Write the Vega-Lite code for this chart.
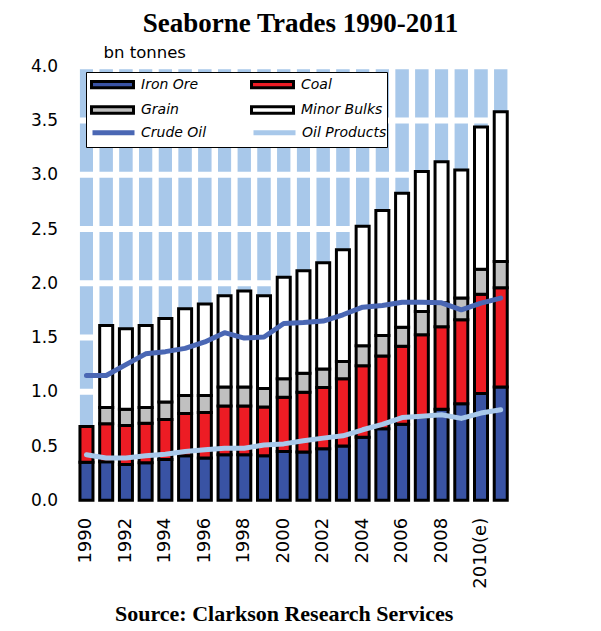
{
  "$schema": "https://vega.github.io/schema/vega-lite/v6.json",
  "width": 434,
  "height": 434,
  "autosize": "none",
  "padding": {"left": 76.6, "top": 66.3, "right": 90.4, "bottom": 130.7},
  "background": "white",
  "config": {"view": {"stroke": null}},
  "title": {"text": "Seaborne Trades 1990-2011", "font": "Liberation Serif", "fontSize": 27, "fontWeight": "bold", "color": "black", "anchor": "middle", "dx": 7, "dy": 28, "offset": 14, "baseline": "alphabetic"},
  "datasets": {
    "trades": [
      {"year": "1990", "type": "Iron Ore", "value": 0.35}, {"year": "1990", "type": "Coal", "value": 0.33},
      {"year": "1991", "type": "Iron Ore", "value": 0.355}, {"year": "1991", "type": "Coal", "value": 0.35}, {"year": "1991", "type": "Grain", "value": 0.15}, {"year": "1991", "type": "Minor Bulks", "value": 0.755},
      {"year": "1992", "type": "Iron Ore", "value": 0.33}, {"year": "1992", "type": "Coal", "value": 0.36}, {"year": "1992", "type": "Grain", "value": 0.15}, {"year": "1992", "type": "Minor Bulks", "value": 0.74},
      {"year": "1993", "type": "Iron Ore", "value": 0.345}, {"year": "1993", "type": "Coal", "value": 0.365}, {"year": "1993", "type": "Grain", "value": 0.145}, {"year": "1993", "type": "Minor Bulks", "value": 0.755},
      {"year": "1994", "type": "Iron Ore", "value": 0.375}, {"year": "1994", "type": "Coal", "value": 0.37}, {"year": "1994", "type": "Grain", "value": 0.16}, {"year": "1994", "type": "Minor Bulks", "value": 0.77},
      {"year": "1995", "type": "Iron Ore", "value": 0.41}, {"year": "1995", "type": "Coal", "value": 0.39}, {"year": "1995", "type": "Grain", "value": 0.165}, {"year": "1995", "type": "Minor Bulks", "value": 0.8},
      {"year": "1996", "type": "Iron Ore", "value": 0.39}, {"year": "1996", "type": "Coal", "value": 0.42}, {"year": "1996", "type": "Grain", "value": 0.155}, {"year": "1996", "type": "Minor Bulks", "value": 0.845},
      {"year": "1997", "type": "Iron Ore", "value": 0.42}, {"year": "1997", "type": "Coal", "value": 0.45}, {"year": "1997", "type": "Grain", "value": 0.175}, {"year": "1997", "type": "Minor Bulks", "value": 0.84},
      {"year": "1998", "type": "Iron Ore", "value": 0.42}, {"year": "1998", "type": "Coal", "value": 0.45}, {"year": "1998", "type": "Grain", "value": 0.175}, {"year": "1998", "type": "Minor Bulks", "value": 0.885},
      {"year": "1999", "type": "Iron Ore", "value": 0.41}, {"year": "1999", "type": "Coal", "value": 0.45}, {"year": "1999", "type": "Grain", "value": 0.17}, {"year": "1999", "type": "Minor Bulks", "value": 0.855},
      {"year": "2000", "type": "Iron Ore", "value": 0.45}, {"year": "2000", "type": "Coal", "value": 0.5}, {"year": "2000", "type": "Grain", "value": 0.17}, {"year": "2000", "type": "Minor Bulks", "value": 0.935},
      {"year": "2001", "type": "Iron Ore", "value": 0.445}, {"year": "2001", "type": "Coal", "value": 0.55}, {"year": "2001", "type": "Grain", "value": 0.175}, {"year": "2001", "type": "Minor Bulks", "value": 0.945},
      {"year": "2002", "type": "Iron Ore", "value": 0.475}, {"year": "2002", "type": "Coal", "value": 0.565}, {"year": "2002", "type": "Grain", "value": 0.17}, {"year": "2002", "type": "Minor Bulks", "value": 0.98},
      {"year": "2003", "type": "Iron Ore", "value": 0.5}, {"year": "2003", "type": "Coal", "value": 0.62}, {"year": "2003", "type": "Grain", "value": 0.16}, {"year": "2003", "type": "Minor Bulks", "value": 1.03},
      {"year": "2004", "type": "Iron Ore", "value": 0.58}, {"year": "2004", "type": "Coal", "value": 0.66}, {"year": "2004", "type": "Grain", "value": 0.185}, {"year": "2004", "type": "Minor Bulks", "value": 1.1},
      {"year": "2005", "type": "Iron Ore", "value": 0.66}, {"year": "2005", "type": "Coal", "value": 0.67}, {"year": "2005", "type": "Grain", "value": 0.19}, {"year": "2005", "type": "Minor Bulks", "value": 1.15},
      {"year": "2006", "type": "Iron Ore", "value": 0.7}, {"year": "2006", "type": "Coal", "value": 0.72}, {"year": "2006", "type": "Grain", "value": 0.175}, {"year": "2006", "type": "Minor Bulks", "value": 1.235},
      {"year": "2007", "type": "Iron Ore", "value": 0.77}, {"year": "2007", "type": "Coal", "value": 0.755}, {"year": "2007", "type": "Grain", "value": 0.215}, {"year": "2007", "type": "Minor Bulks", "value": 1.29},
      {"year": "2008", "type": "Iron Ore", "value": 0.84}, {"year": "2008", "type": "Coal", "value": 0.76}, {"year": "2008", "type": "Grain", "value": 0.22}, {"year": "2008", "type": "Minor Bulks", "value": 1.3},
      {"year": "2009", "type": "Iron Ore", "value": 0.89}, {"year": "2009", "type": "Coal", "value": 0.775}, {"year": "2009", "type": "Grain", "value": 0.2}, {"year": "2009", "type": "Minor Bulks", "value": 1.18},
      {"year": "2010", "type": "Iron Ore", "value": 0.985}, {"year": "2010", "type": "Coal", "value": 0.915}, {"year": "2010", "type": "Grain", "value": 0.23}, {"year": "2010", "type": "Minor Bulks", "value": 1.31},
      {"year": "2011", "type": "Iron Ore", "value": 1.045}, {"year": "2011", "type": "Coal", "value": 0.915}, {"year": "2011", "type": "Grain", "value": 0.24}, {"year": "2011", "type": "Minor Bulks", "value": 1.38}
    ],
    "oil": [
      {"year": "1990", "type": "Crude Oil", "value": 1.15}, {"year": "1991", "type": "Crude Oil", "value": 1.15}, {"year": "1992", "type": "Crude Oil", "value": 1.25}, {"year": "1993", "type": "Crude Oil", "value": 1.35}, {"year": "1994", "type": "Crude Oil", "value": 1.37}, {"year": "1995", "type": "Crude Oil", "value": 1.4}, {"year": "1996", "type": "Crude Oil", "value": 1.46}, {"year": "1997", "type": "Crude Oil", "value": 1.545}, {"year": "1998", "type": "Crude Oil", "value": 1.495}, {"year": "1999", "type": "Crude Oil", "value": 1.505}, {"year": "2000", "type": "Crude Oil", "value": 1.63}, {"year": "2001", "type": "Crude Oil", "value": 1.638}, {"year": "2002", "type": "Crude Oil", "value": 1.652}, {"year": "2003", "type": "Crude Oil", "value": 1.71}, {"year": "2004", "type": "Crude Oil", "value": 1.78}, {"year": "2005", "type": "Crude Oil", "value": 1.795}, {"year": "2006", "type": "Crude Oil", "value": 1.826}, {"year": "2007", "type": "Crude Oil", "value": 1.826}, {"year": "2008", "type": "Crude Oil", "value": 1.82}, {"year": "2009", "type": "Crude Oil", "value": 1.756}, {"year": "2010", "type": "Crude Oil", "value": 1.817}, {"year": "2011", "type": "Crude Oil", "value": 1.864},
      {"year": "1990", "type": "Oil Products", "value": 0.42}, {"year": "1991", "type": "Oil Products", "value": 0.39}, {"year": "1992", "type": "Oil Products", "value": 0.39}, {"year": "1993", "type": "Oil Products", "value": 0.41}, {"year": "1994", "type": "Oil Products", "value": 0.425}, {"year": "1995", "type": "Oil Products", "value": 0.45}, {"year": "1996", "type": "Oil Products", "value": 0.465}, {"year": "1997", "type": "Oil Products", "value": 0.48}, {"year": "1998", "type": "Oil Products", "value": 0.48}, {"year": "1999", "type": "Oil Products", "value": 0.51}, {"year": "2000", "type": "Oil Products", "value": 0.52}, {"year": "2001", "type": "Oil Products", "value": 0.548}, {"year": "2002", "type": "Oil Products", "value": 0.573}, {"year": "2003", "type": "Oil Products", "value": 0.594}, {"year": "2004", "type": "Oil Products", "value": 0.65}, {"year": "2005", "type": "Oil Products", "value": 0.7}, {"year": "2006", "type": "Oil Products", "value": 0.763}, {"year": "2007", "type": "Oil Products", "value": 0.775}, {"year": "2008", "type": "Oil Products", "value": 0.788}, {"year": "2009", "type": "Oil Products", "value": 0.755}, {"year": "2010", "type": "Oil Products", "value": 0.804}, {"year": "2011", "type": "Oil Products", "value": 0.834}
    ],
    "grid": [{"g": 0.5}, {"g": 1.0}, {"g": 1.5}, {"g": 2.0}, {"g": 2.5}, {"g": 3.0}, {"g": 3.5}, {"g": 4.0}]
  },
  "layer": [
    {
      "data": {"name": "oil"},
      "mark": {"type": "bar", "color": "#A8C8EA"},
      "encoding": {
        "x": {"field": "year", "type": "nominal", "scale": {"type": "band", "paddingInner": 0.34, "paddingOuter": 0.17},
          "axis": {"values": ["1990","1992","1994","1996","1998","2000","2002","2004","2006","2008","2010"], "labelExpr": "datum.value == '2010' ? '2010(e)' : datum.label", "labelAngle": 270, "labelFont": "DejaVu Sans", "labelFontSize": 18, "labelColor": "black", "labelPadding": 17, "ticks": false, "domain": false, "grid": false,
            "title": "Source: Clarkson Research Services", "titleFont": "Liberation Serif", "titleFontSize": 22, "titleFontWeight": "bold", "titleColor": "black", "titleX": 207, "titleY": 120, "titleAlign": "center", "titleBaseline": "alphabetic"}},
        "y": {"datum": 4, "type": "quantitative", "stack": null, "scale": {"domain": [0, 4], "nice": false},
          "axis": {"values": [0, 0.5, 1, 1.5, 2, 2.5, 3, 3.5, 4], "format": ".1f", "labelFont": "DejaVu Sans", "labelFontSize": 17, "labelColor": "black", "labelPadding": 19, "ticks": false, "domain": false, "grid": false,
            "title": "bn tonnes", "titleAngle": 0, "titleFont": "DejaVu Sans", "titleFontSize": 16.5, "titleFontWeight": "normal", "titleColor": "black", "titleX": 26.4, "titleY": -8.5, "titleAlign": "left", "titleBaseline": "alphabetic"}}
      }
    },
    {
      "data": {"name": "grid"},
      "mark": {"type": "rule", "color": "white", "strokeWidth": 6},
      "encoding": {"y": {"field": "g", "type": "quantitative"}}
    },
    {
      "data": {"name": "trades"},
      "transform": [{"calculate": "indexof(['Iron Ore', 'Coal', 'Grain', 'Minor Bulks'], datum.type)", "as": "stackOrder"}],
      "mark": {"type": "bar", "stroke": "black", "strokeWidth": 3},
      "encoding": {
        "x": {"field": "year", "type": "nominal"},
        "y": {"field": "value", "type": "quantitative", "stack": "zero"},
        "order": {"field": "stackOrder", "type": "quantitative", "sort": "ascending"},
        "color": {"field": "type", "type": "nominal",
          "scale": {"domain": ["Iron Ore", "Coal", "Grain", "Minor Bulks"], "range": ["#3953A4", "#ED1C24", "#C0C0C0", "#FFFFFF"]},
          "legend": {"orient": "none", "legendX": 9.4, "legendY": 5.7, "columns": 2,
            "title": "\u00a0\u00a0\u00a0\u00a0\u00a0\u00a0\u00a0\u00a0\u00a0\u00a0\u00a0\u00a0\u00a0\u00a0\u00a0\u00a0\u00a0\u00a0\u00a0\u00a0\u00a0\u00a0\u00a0\u00a0\u00a0\u00a0\u00a0\u00a0\u00a0\u00a0\u00a0\u00a0\u00a0\u00a0\u00a0\u00a0\u00a0\u00a0\u00a0\u00a0\u00a0\u00a0\u00a0\u00a0\u00a0\u00a0\u00a0",
            "titleOrient": "bottom", "titleFont": "DejaVu Sans", "titleFontSize": 20, "titlePadding": 4, "titleLimit": 400,
            "fillColor": "white", "strokeColor": "black", "padding": 4, "zindex": 1,
            "values": ["Iron Ore", "Grain", "Coal", "Minor Bulks"],
            "labelFont": "DejaVu Sans", "labelFontStyle": "italic", "labelFontSize": 14, "labelColor": "black", "labelOffset": 34,
            "symbolType": "M-1,-0.45H5V0.45H-1Z", "symbolSize": 196, "symbolStrokeColor": "black", "symbolStrokeWidth": 3, "symbolOpacity": 1,
            "rowPadding": 6.5, "columnPadding": 46}
        }
      }
    },
    {
      "data": {"name": "oil"},
      "mark": {"type": "line", "strokeWidth": 5, "strokeCap": "round", "strokeJoin": "round"},
      "encoding": {
        "x": {"field": "year", "type": "nominal"},
        "y": {"field": "value", "type": "quantitative"},
        "stroke": {"field": "type", "type": "nominal",
          "scale": {"domain": ["Crude Oil", "Oil Products"], "range": ["#4A67B4", "#A8C8EA"]},
          "legend": {"orient": "none", "legendX": 13.4, "legendY": 56.7, "columns": 2, "title": null, "padding": 0, "zindex": 2,
            "labelFont": "DejaVu Sans", "labelFontStyle": "italic", "labelFontSize": 14, "labelColor": "black", "labelOffset": 32,
            "symbolType": "M-1,0H5", "symbolSize": 196, "symbolStrokeWidth": 5, "symbolOpacity": 1,
            "columnPadding": 36}
        }
      }
    }
  ]
}
